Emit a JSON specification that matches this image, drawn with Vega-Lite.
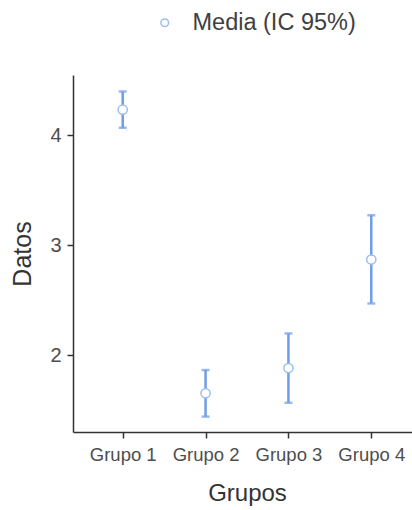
{
  "$schema": "https://vega.github.io/schema/vega-lite/v6.json",
  "width": 348,
  "height": 357,
  "autosize": "none",
  "padding": {"left": 73, "top": 75, "right": 0, "bottom": 78},
  "background": "white",
  "config": {
    "view": {"stroke": null},
    "font": "Liberation Sans",
    "axis": {"grid": false, "domainColor": "#333333", "domainWidth": 1.5, "tickColor": "#333333", "tickWidth": 1.5, "tickSize": 6, "labelColor": "#4d4d4d", "titleColor": "#333333", "titleFontWeight": "normal", "labelFont": "Liberation Sans", "titleFont": "Liberation Sans"}
  },
  "data": {
    "values": [
      {"grupo": "Grupo 1", "media": 4.234, "lower": 4.07, "upper": 4.40, "serie": "Media (IC 95%)"},
      {"grupo": "Grupo 2", "media": 1.652, "lower": 1.44, "upper": 1.864, "serie": "Media (IC 95%)"},
      {"grupo": "Grupo 3", "media": 1.882, "lower": 1.566, "upper": 2.197, "serie": "Media (IC 95%)"},
      {"grupo": "Grupo 4", "media": 2.87, "lower": 2.47, "upper": 3.273, "serie": "Media (IC 95%)"}
    ]
  },
  "encoding": {
    "x": {"field": "grupo", "type": "ordinal", "scale": {"type": "point", "padding": 0.6},
      "axis": {"title": "Grupos", "labelAngle": 0, "labelFontSize": 18.5, "labelPadding": 7, "titleFontSize": 24, "titlePadding": 18}}
  },
  "layer": [
    {
      "mark": {"type": "rule", "color": "#6f9de8", "strokeWidth": 2.5},
      "encoding": {
        "y": {"field": "lower", "type": "quantitative", "scale": {"domain": [1.3, 4.55], "nice": false, "zero": false},
          "axis": {"title": "Datos", "values": [2, 3, 4], "format": "d", "labelFontSize": 20, "labelPadding": 6, "titleFontSize": 25, "titlePadding": 14}},
        "y2": {"field": "upper"}
      }
    },
    {
      "mark": {"type": "tick", "color": "#6f9de8", "size": 8, "thickness": 2.5, "orient": "horizontal"},
      "encoding": {"y": {"field": "lower", "type": "quantitative"}}
    },
    {
      "mark": {"type": "tick", "color": "#6f9de8", "size": 8, "thickness": 2.5, "orient": "horizontal"},
      "encoding": {"y": {"field": "upper", "type": "quantitative"}}
    },
    {
      "mark": {"type": "point", "shape": "circle", "filled": false, "fill": "white", "fillOpacity": 1, "strokeWidth": 1.5, "size": 85, "opacity": 1},
      "encoding": {
        "y": {"field": "media", "type": "quantitative"},
        "color": {"field": "serie", "type": "nominal", "scale": {"range": ["#9dbdf0"]},
          "legend": {"title": null, "orient": "none", "legendX": 80, "legendY": -64, "labelFontSize": 23.5, "labelLimit": 400, "labelColor": "#404040", "symbolSize": 60, "symbolStrokeWidth": 1.5, "labelOffset": 16, "symbolFillColor": "white"}}
      }
    }
  ]
}
